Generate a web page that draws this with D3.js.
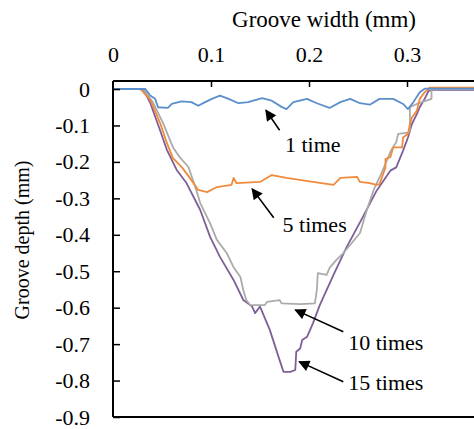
<!DOCTYPE html>
<html><head><meta charset="utf-8">
<script src="https://cdn.jsdelivr.net/npm/d3@7"></script>
<style>
html,body{margin:0;padding:0;background:#fff;}
svg{display:block;}
text{font-family:"Liberation Serif","Times New Roman",serif;fill:#000;}
</style></head>
<body>
<svg id="chart" width="474" height="429"></svg>
<script>
const xTicks = [0, 0.1, 0.2, 0.3];
const yTicks = [0, -0.1, -0.2, -0.3, -0.4, -0.5, -0.6, -0.7, -0.8, -0.9];
const xTitle = "Groove width (mm)";
const yTitle = "Groove depth (mm)";

const series1 = [[0,0],[0.022,0],[0.033,0],[0.038,-0.018],[0.043,-0.027],[0.046,-0.05],[0.056,-0.052],[0.06,-0.041],[0.07,-0.034],[0.08,-0.036],[0.087,-0.046],[0.094,-0.036],[0.101,-0.027],[0.109,-0.018],[0.118,-0.027],[0.128,-0.039],[0.138,-0.036],[0.152,-0.025],[0.162,-0.032],[0.172,-0.049],[0.177,-0.055],[0.184,-0.036],[0.198,-0.027],[0.208,-0.039],[0.221,-0.052],[0.232,-0.036],[0.242,-0.027],[0.252,-0.039],[0.262,-0.043],[0.272,-0.027],[0.286,-0.027],[0.296,-0.041],[0.301,-0.055],[0.306,-0.038],[0.313,-0.009],[0.318,0.001],[0.4,0.001]];
const series5 = [[0,0],[0.028,0],[0.038,-0.03],[0.048,-0.093],[0.055,-0.148],[0.061,-0.189],[0.071,-0.217],[0.08,-0.25],[0.087,-0.277],[0.096,-0.283],[0.106,-0.269],[0.121,-0.263],[0.123,-0.244],[0.126,-0.258],[0.15,-0.255],[0.162,-0.236],[0.177,-0.244],[0.204,-0.255],[0.225,-0.263],[0.232,-0.244],[0.249,-0.241],[0.252,-0.255],[0.262,-0.258],[0.269,-0.263],[0.272,-0.261],[0.278,-0.215],[0.278,-0.192],[0.283,-0.187],[0.286,-0.16],[0.295,-0.16],[0.296,-0.133],[0.301,-0.123],[0.303,-0.096],[0.305,-0.078],[0.31,-0.06],[0.313,-0.027],[0.318,-0.009],[0.323,0.004],[0.4,0.004]];
const series10 = [[0,0],[0.031,0],[0.041,-0.038],[0.051,-0.093],[0.061,-0.159],[0.068,-0.187],[0.077,-0.214],[0.085,-0.277],[0.089,-0.313],[0.099,-0.368],[0.106,-0.414],[0.116,-0.45],[0.123,-0.489],[0.13,-0.516],[0.133,-0.552],[0.136,-0.579],[0.14,-0.593],[0.155,-0.593],[0.157,-0.584],[0.17,-0.579],[0.172,-0.588],[0.191,-0.59],[0.206,-0.588],[0.208,-0.552],[0.209,-0.505],[0.218,-0.51],[0.221,-0.491],[0.228,-0.469],[0.235,-0.45],[0.242,-0.428],[0.252,-0.395],[0.259,-0.332],[0.266,-0.277],[0.274,-0.231],[0.284,-0.167],[0.289,-0.146],[0.291,-0.123],[0.303,-0.119],[0.303,-0.05],[0.31,-0.041],[0.325,-0.027],[0.325,0],[0.4,0]];
const series15 = [[0,0],[0.026,0],[0.031,-0.002],[0.038,-0.038],[0.048,-0.113],[0.055,-0.167],[0.065,-0.222],[0.075,-0.258],[0.089,-0.332],[0.099,-0.405],[0.109,-0.46],[0.123,-0.524],[0.133,-0.579],[0.142,-0.597],[0.145,-0.615],[0.15,-0.597],[0.16,-0.661],[0.17,-0.744],[0.174,-0.776],[0.181,-0.776],[0.186,-0.771],[0.187,-0.721],[0.191,-0.712],[0.193,-0.689],[0.198,-0.68],[0.204,-0.643],[0.211,-0.593],[0.225,-0.51],[0.238,-0.436],[0.255,-0.351],[0.269,-0.279],[0.283,-0.224],[0.289,-0.215],[0.296,-0.169],[0.301,-0.133],[0.305,-0.096],[0.31,-0.069],[0.313,-0.05],[0.318,-0.027],[0.322,-0.005],[0.327,-0.002],[0.4,-0.002]];

const seriesNames = ["1 time", "5 times", "10 times", "15 times"];
const seriesColors = ["#5b8fcb", "#f08a3c", "#ababab", "#7e5f96"];
// annotation arrows: [headX, headY, tailX, tailY, textX, textY]
const annotations = [
  [0.156,-0.058, 0.170,-0.113, 0.1755,-0.173],
  [0.142,-0.274, 0.164,-0.353, 0.173,-0.392],
  [0.186,-0.606, 0.235,-0.666, 0.240,-0.716],
  [0.190,-0.748, 0.235,-0.803, 0.240,-0.826]
];

const svg = d3.select("#chart");
const x = d3.scaleLinear().domain([0, 0.4]).range([113, 505]);
const y = d3.scaleLinear().domain([-0.9, 0.022]).range([417, 81]);
const fmt = d => d === 0 ? "0" : d.toFixed(1);

const line = d3.line().x(d => x(d[0])).y(d => y(d[1]));
const allSeries = [series1, series5, series10, series15];
[3,2,1,0].forEach(i => {
  svg.append("path").datum(allSeries[i])
    .attr("fill","none").attr("stroke",seriesColors[i])
    .attr("stroke-width",1.8).attr("stroke-linejoin","round")
    .attr("d", line);
});

const xAxis = d3.axisTop(x).tickValues(xTicks).tickFormat(fmt).tickSizeInner(-6).tickSizeOuter(0).tickPadding(19);
const gx = svg.append("g").attr("transform","translate(0,81)").call(xAxis);
gx.select(".domain").remove();
gx.selectAll(".tick line").attr("stroke","#000").attr("stroke-width",1.5);
gx.selectAll(".tick").filter(d => d === 0).select("line").remove();
gx.selectAll("text").attr("font-size",22).attr("fill","#000");

const yAxis = d3.axisLeft(y).tickValues(yTicks).tickFormat(fmt).tickSizeInner(-7).tickSizeOuter(0).tickPadding(23);
const gy = svg.append("g").attr("transform","translate(113,0)").call(yAxis);
gy.select(".domain").remove();
gy.selectAll(".tick line").attr("stroke","#000").attr("stroke-width",1.5);
gy.selectAll("text").attr("font-size",22).attr("fill","#000");

svg.append("line").attr("x1",x(0)).attr("x2",474).attr("y1",y.range()[1]).attr("y2",y.range()[1]).attr("stroke","#000").attr("stroke-width",2);
svg.append("line").attr("x1",x(0)).attr("x2",474).attr("y1",y.range()[0]).attr("y2",y.range()[0]).attr("stroke","#000").attr("stroke-width",2);
svg.append("line").attr("x1",x(0)).attr("x2",x(0)).attr("y1",y.range()[1]).attr("y2",y.range()[0]).attr("stroke","#000").attr("stroke-width",2);

svg.append("text").attr("x",324).attr("y",27).attr("text-anchor","middle").attr("font-size",23).text(xTitle);
svg.append("text").attr("transform","translate(29,240) rotate(-90)").attr("text-anchor","middle").attr("font-size",20).text(yTitle);

const defs = svg.append("defs");
defs.append("marker").attr("id","ah").attr("viewBox","0 0 10 10").attr("refX",9).attr("refY",5)
  .attr("markerWidth",7.5).attr("markerHeight",7).attr("markerUnits","strokeWidth").attr("orient","auto")
  .append("path").attr("d","M0,0 L10,5 L0,10 Z").attr("fill","#000");
annotations.forEach((a, i) => {
  svg.append("line").attr("x1",x(a[2])).attr("y1",y(a[3])).attr("x2",x(a[0])).attr("y2",y(a[1]))
    .attr("stroke","#000").attr("stroke-width",1.6).attr("marker-end","url(#ah)");
  svg.append("text").attr("x",x(a[4])).attr("y",y(a[5])).attr("font-size",22).text(seriesNames[i]);
});
</script>
</body></html>
